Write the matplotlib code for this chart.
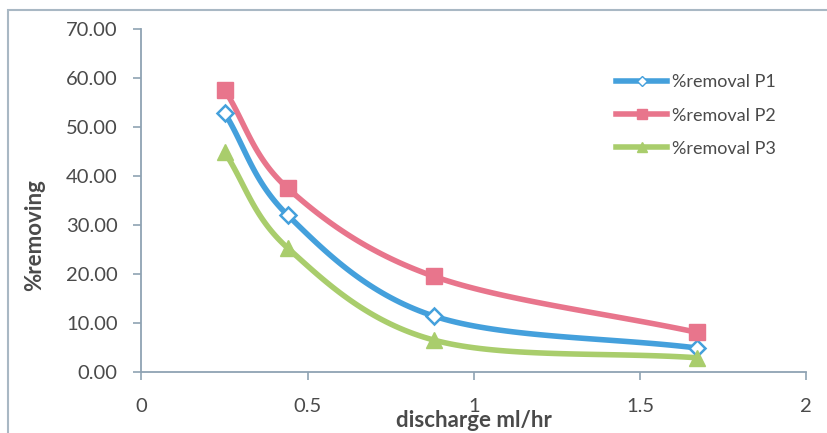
import numpy as np
import matplotlib
matplotlib.use('Agg')
import matplotlib.pyplot as plt
from matplotlib.patches import Rectangle

# data
discharge = [0.25, 0.44, 0.88, 1.67]
removal_p1 = [52.9, 32.0, 11.4, 4.9]
removal_p2 = [57.6, 37.5, 19.5, 8.1]
removal_p3 = [44.9, 25.3, 6.5, 2.9]
series_names = ['%removal P1', '%removal P2', '%removal P3']
y_ticks = [0, 10, 20, 30, 40, 50, 60, 70]
x_ticks = [0, 0.5, 1, 1.5, 2]
x_ticklabels = ['0', '0.5', '1', '1.5', '2']


def smooth(x, y, n=40):
    # Catmull-Rom curve through the points (like Excel "smoothed line")
    x = np.asarray(x, float)
    y = np.asarray(y, float)
    px = np.concatenate([[2 * x[0] - x[1]], x, [2 * x[-1] - x[-2]]])
    py = np.concatenate([[2 * y[0] - y[1]], y, [2 * y[-1] - y[-2]]])
    xs, ys = [], []
    t = np.linspace(0, 1, n)
    for i in range(1, len(px) - 2):
        for arr, out in ((px, xs), (py, ys)):
            p0, p1, p2, p3 = arr[i - 1], arr[i], arr[i + 1], arr[i + 2]
            out.append(0.5 * ((2 * p1) + (-p0 + p2) * t
                              + (2 * p0 - 5 * p1 + 4 * p2 - p3) * t ** 2
                              + (-p0 + 3 * p1 - 3 * p2 + p3) * t ** 3))
    return np.concatenate(xs), np.concatenate(ys)


plt.rcParams['font.family'] = ['Lato', 'DejaVu Sans']
text_col = '#4a4a4a'
axis_col = '#8fa3b3'

fig = plt.figure(figsize=(8.27, 4.33), dpi=100)
ax = fig.add_axes([0.171, 0.141, 0.804, 0.792])

# outer chart frame
fig.patches.append(Rectangle((0.010, -0.01), 1.2, 0.987, transform=fig.transFigure,
                             fill=False, edgecolor='#a9b8c4', linewidth=1.5))

styles = [
    dict(color='#44a0dc', marker='D', mfc='white', ms=8, mew=1.8),
    dict(color='#e8758c', marker='s', mfc='#e8758c', ms=11, mew=1),
    dict(color='#a9cd6c', marker='^', mfc='#a9cd6c', ms=11, mew=1),
]
for yv, name, st in zip([removal_p1, removal_p2, removal_p3], series_names, styles):
    sx, sy = smooth(discharge, yv)
    ax.plot(sx, sy, color=st['color'], lw=4, solid_capstyle='round', zorder=2)
    ax.plot(discharge, yv, ls='none', marker=st['marker'], ms=st['ms'],
            mfc=st['mfc'], mec=st['color'], mew=st['mew'], zorder=3)
    # legend proxy
    ax.plot([], [], color=st['color'], lw=4, marker=st['marker'], ms=st['ms'] * 0.7,
            mfc=st['mfc'], mec=st['color'], label=name)

ax.set_xlim(0, 2)
ax.set_ylim(0, 70)
ax.set_xticks(x_ticks)
ax.set_xticklabels(x_ticklabels)
ax.set_yticks(y_ticks)
ax.set_yticklabels(['%.2f' % v for v in y_ticks])

for s in ['top', 'right']:
    ax.spines[s].set_visible(False)
for s in ['left', 'bottom']:
    ax.spines[s].set_color(axis_col)
    ax.spines[s].set_linewidth(1.3)
ax.tick_params(axis='both', colors=axis_col, labelcolor=text_col, labelsize=14.5,
               length=6, width=1.2, direction='out')
ax.tick_params(axis='x', pad=13)
ax.tick_params(axis='y', pad=11)

ax.set_xlabel('discharge ml/hr', fontsize=16, fontweight='bold', color=text_col)
ax.xaxis.set_label_coords(0.5, -0.11)
ax.set_ylabel('%removing', fontsize=16, fontweight='bold', color=text_col)
ax.yaxis.set_label_coords(-0.145, 0.40)

leg = ax.legend(loc='upper left', bbox_to_anchor=(0.69, 0.915), frameon=False,
                fontsize=13, handlelength=2.8, handletextpad=0.28, labelspacing=0.95,
                labelcolor=text_col)

plt.savefig('out.png', dpi=100)
